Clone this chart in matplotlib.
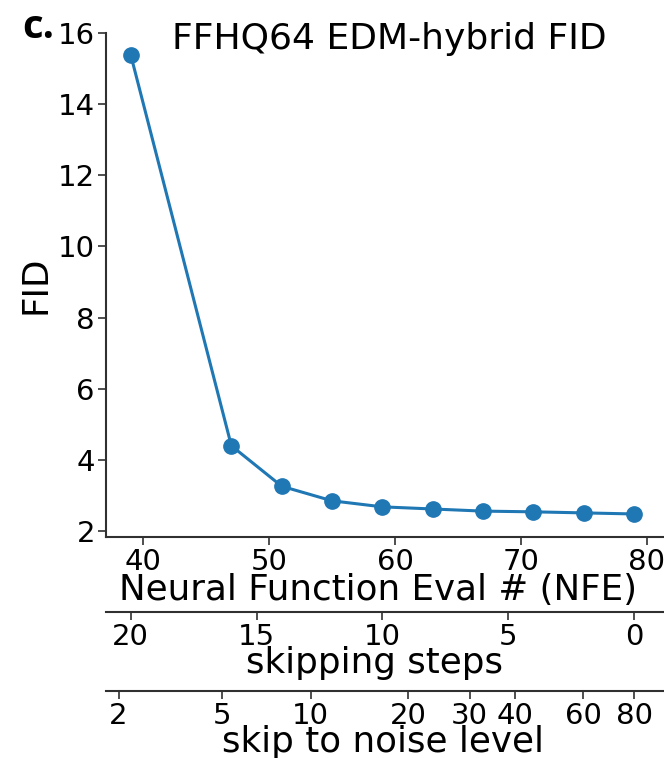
import numpy as np
import matplotlib
matplotlib.use("Agg")
import matplotlib.pyplot as plt

# ---- data ----
nfe = [39, 47, 51, 55, 59, 63, 67, 71, 75, 79]
fid = [15.4, 4.39, 3.25, 2.84, 2.67, 2.61, 2.55, 2.53, 2.50, 2.47]

y_ticks = [2, 4, 6, 8, 10, 12, 14, 16]
x_ticks = [40, 50, 60, 70, 80]
skip_ticks = [20, 15, 10, 5, 0]
noise_ticks = [2, 5, 10, 20, 30, 40, 60, 80]
noise_labels = ["2", "5", "10", "20", "30", "40", "60", "80"]

title = "FFHQ64 EDM-hybrid FID"
xlabel = "Neural Function Eval # (NFE)"
ylabel = "FID"
skip_label = "skipping steps"
noise_label = "skip to noise level"
panel = "c."

# EDM sampler schedule parameters (used for the axis transforms)
SIGMA_MAX, SIGMA_MIN, RHO, N_STEPS, NFE_FULL = 80.0, 0.002, 7.0, 40, 79

A = SIGMA_MAX ** (1 / RHO)
B = SIGMA_MIN ** (1 / RHO)


def nfe_to_skip(x):
    return (NFE_FULL - np.asarray(x, dtype=float)) / 2.0


def skip_to_nfe(k):
    return NFE_FULL - 2.0 * np.asarray(k, dtype=float)


def nfe_to_sigma(x):
    k = nfe_to_skip(x)
    base = A + k / (N_STEPS - 1) * (B - A)
    return np.clip(base, 1e-6, None) ** RHO


def sigma_to_nfe(s):
    base = np.clip(np.asarray(s, dtype=float), 1e-12, None) ** (1 / RHO)
    k = (N_STEPS - 1) * (A - base) / (A - B)
    return skip_to_nfe(k)


W, H = 664, 758
AX_L, AX_T, AX_B = 106, 33.3, 536.7
fig = plt.figure(figsize=(W / 100, H / 100), dpi=100)
ax = fig.add_axes([AX_L / W, 1 - AX_B / H, 1 - AX_L / W, (AX_B - AX_T) / H])

ax.plot(nfe, fid, color="#1f77b4", lw=2.2, marker="o", ms=11, zorder=3)
ax.set_xlim(37.04, 81.37)
ax.set_ylim(1.83, 16.0)
ax.set_xticks(x_ticks)
ax.set_yticks(y_ticks)

SPINE_C = "#303030"
for s in ["top", "right"]:
    ax.spines[s].set_visible(False)
for s in ["left", "bottom"]:
    ax.spines[s].set_color(SPINE_C)
    ax.spines[s].set_linewidth(1.5)

TICK_FS = 21
LAB_FS = 25.7
ax.tick_params(axis="both", labelsize=TICK_FS, length=6, width=1.2, color=SPINE_C, pad=2)
ax.set_xlabel(xlabel, fontsize=LAB_FS, labelpad=-2)
ax.xaxis.label.set_x(0.488)
ax.set_ylabel(ylabel, fontsize=LAB_FS, labelpad=4)

ax.set_title(title, fontsize=26, y=(AX_B - 49) / (AX_B - AX_T), x=0.507, pad=0)

fig.text(22 / W, 1 - 27 / H, panel, fontsize=29, fontweight="bold",
         family=["Open Sans", "DejaVu Sans"], ha="left", va="center")

h_px = AX_B - AX_T
sec1 = ax.secondary_xaxis((AX_B - 612.3) / h_px, functions=(nfe_to_skip, skip_to_nfe))
sec1.set_xticks(skip_ticks)
sec1.set_xticklabels([str(t) for t in skip_ticks])
sec1.set_xlabel(skip_label, fontsize=LAB_FS, labelpad=-4)
sec1.xaxis.label.set_x(0.481)
sec1.tick_params(labelsize=TICK_FS, length=6, width=1.2, color=SPINE_C, pad=2)
sec1.spines["bottom"].set_color(SPINE_C)
sec1.spines["bottom"].set_linewidth(1.5)

sec2 = ax.secondary_xaxis((AX_B - 690.5) / h_px, functions=(nfe_to_sigma, sigma_to_nfe))
sec2.set_xticks(noise_ticks)
sec2.set_xticklabels(noise_labels)
sec2.set_xlabel(noise_label, fontsize=LAB_FS, labelpad=-3)
sec2.xaxis.label.set_x(0.497)
sec2.tick_params(labelsize=TICK_FS, length=6, width=1.2, color=SPINE_C, pad=2)
sec2.spines["bottom"].set_color(SPINE_C)
sec2.spines["bottom"].set_linewidth(1.5)

fig.savefig("out.png", dpi=100)
